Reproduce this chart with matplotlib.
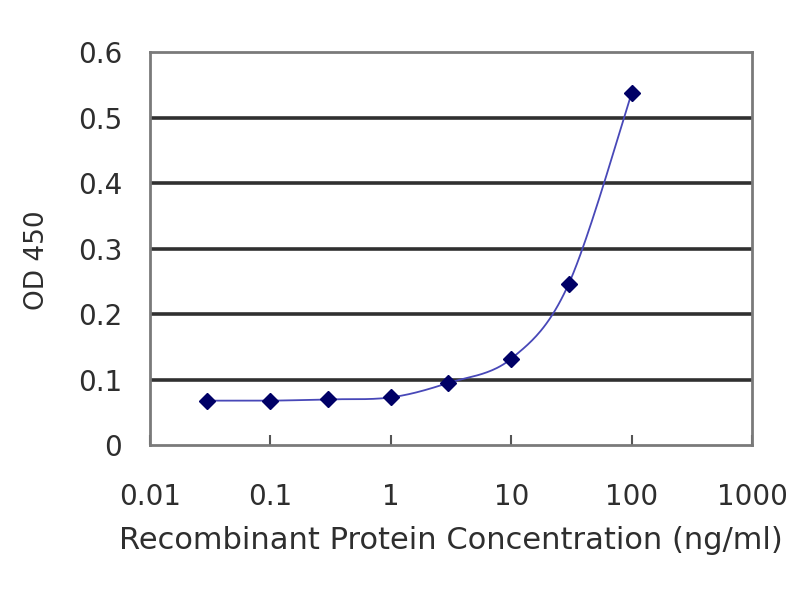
import numpy as np
import matplotlib
matplotlib.use("Agg")
import matplotlib.pyplot as plt

concentration = [0.03, 0.1, 0.3, 1, 3, 10, 30, 100]
od450 = [0.068, 0.068, 0.070, 0.073, 0.095, 0.132, 0.246, 0.537]
x_ticks = [0.01, 0.1, 1, 10, 100, 1000]
x_tick_labels = ["0.01", "0.1", "1", "10", "100", "1000"]
y_ticks = [0, 0.1, 0.2, 0.3, 0.4, 0.5, 0.6]
y_tick_labels = ["0", "0.1", "0.2", "0.3", "0.4", "0.5", "0.6"]

plt.rcParams['font.family'] = ['DejaVu Sans']

def catmull_rom(xs, ys, n=40):
    # Excel-like smoothed line drawn through the points (in log-x space)
    px = np.log10(np.asarray(xs, float))
    py = np.asarray(ys, float)
    P = np.column_stack([px, py])
    P = np.vstack([P[0], P, P[-1]])
    out = []
    for i in range(1, len(P) - 2):
        p0, p1, p2, p3 = P[i - 1], P[i], P[i + 1], P[i + 2]
        t = np.linspace(0, 1, n)[:, None]
        c1 = p1 + (p2 - p0) / 6
        c2 = p2 - (p3 - p1) / 6
        seg = ((1 - t) ** 3) * p1 + 3 * ((1 - t) ** 2) * t * c1 + 3 * (1 - t) * t ** 2 * c2 + t ** 3 * p2
        out.append(seg)
    out = np.vstack(out)
    return 10 ** out[:, 0], out[:, 1]

fig = plt.figure(figsize=(8, 6), dpi=100)
ax = fig.add_axes([0.1875, 0.258, 0.7525, 0.655])

for yv in y_ticks[1:-1]:
    ax.axhline(yv, color='#303030', lw=2.6, zorder=1)

sx, sy = catmull_rom(concentration, od450)
ax.plot(sx, sy, color='#4848b8', lw=1.3, zorder=2)
ax.plot(concentration, od450, linestyle='none', marker='D', markersize=8,
        color='#000066', zorder=3)

ax.set_xscale('log')
ax.set_xlim(0.01, 1000)
ax.set_ylim(0, 0.6)
ax.set_xticks(x_ticks)
ax.set_xticklabels(x_tick_labels)
ax.minorticks_off()
ax.set_yticks(y_ticks)
ax.set_yticklabels(y_tick_labels)

for s in ax.spines.values():
    s.set_color('#7a7a7a')
    s.set_linewidth(2)

txt = '#2e2e2e'
ax.tick_params(axis='x', direction='in', length=7, width=1.5, color='#555555',
               labelsize=20, labelcolor=txt, pad=27)
ax.tick_params(axis='y', length=0, labelsize=20, labelcolor=txt, pad=20)

ax.set_xlabel('Recombinant Protein Concentration (ng/ml)', fontsize=22, color=txt)
ax.set_ylabel('OD 450', fontsize=19, color=txt)
ax.xaxis.set_label_coords(0.5, -0.242)
ax.xaxis.label.set_va('center')
ax.yaxis.set_label_coords(-0.188, 0.47)
ax.yaxis.label.set_va('center')

fig.savefig('out.png', dpi=100)
